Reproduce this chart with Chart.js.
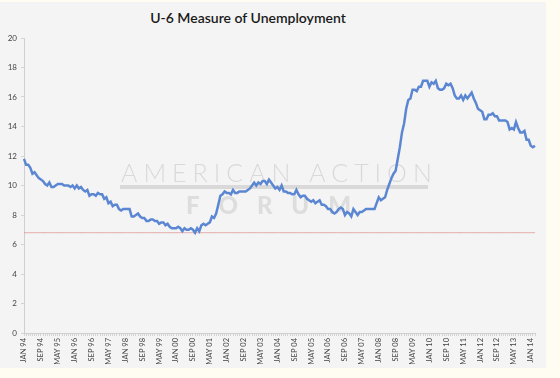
<!DOCTYPE html>
<html>
<head>
<meta charset="utf-8">
<script src="https://cdn.jsdelivr.net/npm/chart.js@4.4.1/dist/chart.umd.min.js"></script>
<style>
  html, body { margin: 0; padding: 0; background: #fffdf1; }
  .panel {
    position: absolute; left: 0; top: 2px; width: 546px; height: 366px;
    background: #f4f4f4;
  }
  .chart-title {
    position: absolute; left: 0; top: 7px; width: 496px; text-align: center;
    font: 600 14px Lato, sans-serif; color: #1a1a1a;
  }
  canvas { position: absolute; left: 0; top: 0; }
</style>
</head>
<body>
<div class="panel">
  <div class="chart-title">U-6 Measure of Unemployment</div>
  <canvas id="u6_chart" width="546" height="366"></canvas>
</div>
<script>
// monthly, Jan 1994 .. Mar 2014
const years = [94, 95, 96, 97, 98, 99, 0, 1, 2, 3, 4, 5, 6, 7, 8, 9, 10, 11, 12, 13, 14];
const monthNames = ["JAN", "FEB", "MAR", "APR", "MAY", "JUN", "JUL", "AUG", "SEP", "OCT", "NOV", "DEC"];

const u6 = [
  // 1994
  11.8, 11.4, 11.4, 11.2, 10.8, 10.9, 10.7, 10.5, 10.4, 10.3, 10.1, 10.0,
  // 1995
  10.2, 9.9, 9.9, 10.0, 10.1, 10.1, 10.1, 10.0, 10.0, 10.0, 9.9, 10.0,
  // 1996
  9.8, 10.0, 9.8, 9.9, 9.7, 9.6, 9.7, 9.3, 9.4, 9.4, 9.3, 9.5,
  // 1997
  9.4, 9.4, 9.1, 9.2, 8.8, 8.9, 8.6, 8.7, 8.7, 8.4, 8.3, 8.4,
  // 1998
  8.4, 8.4, 8.4, 7.9, 7.9, 8.0, 8.1, 7.9, 7.8, 7.8, 7.6, 7.6,
  // 1999
  7.7, 7.7, 7.6, 7.6, 7.4, 7.5, 7.5, 7.3, 7.4, 7.2, 7.1, 7.1,
  // 2000
  7.1, 7.2, 7.1, 6.9, 7.1, 7.0, 7.0, 7.1, 7.0, 6.8, 7.1, 6.9,
  // 2001
  7.3, 7.4, 7.3, 7.4, 7.5, 7.9, 7.8, 8.1, 8.7, 9.3, 9.4, 9.6,
  // 2002
  9.5, 9.5, 9.4, 9.7, 9.5, 9.5, 9.6, 9.6, 9.6, 9.6, 9.7, 9.8,
  // 2003
  10.0, 10.2, 10.0, 10.2, 10.1, 10.3, 10.3, 10.1, 10.4, 10.2, 10.0, 9.8,
  // 2004
  9.9, 9.7, 10.0, 9.6, 9.6, 9.5, 9.5, 9.4, 9.4, 9.7, 9.4, 9.2,
  // 2005
  9.3, 9.3, 9.1, 9.0, 8.9, 9.0, 8.8, 8.9, 9.0, 8.7, 8.7, 8.6,
  // 2006
  8.4, 8.4, 8.2, 8.1, 8.2, 8.4, 8.5, 8.4, 8.0, 8.2, 8.1, 7.9,
  // 2007
  8.4, 8.2, 8.0, 8.2, 8.2, 8.3, 8.4, 8.4, 8.4, 8.4, 8.4, 8.8,
  // 2008
  9.2, 9.0, 9.1, 9.2, 9.7, 10.1, 10.5, 10.8, 11.0, 11.8, 12.6, 13.6,
  // 2009
  14.2, 15.2, 15.8, 15.9, 16.5, 16.5, 16.4, 16.7, 16.7, 17.1, 17.1, 17.1,
  // 2010
  16.7, 17.0, 16.9, 17.1, 16.6, 16.5, 16.5, 16.6, 16.9, 16.8, 16.9, 16.6,
  // 2011
  16.1, 15.9, 15.9, 16.1, 15.8, 16.1, 15.9, 16.1, 16.3, 15.9, 15.6, 15.2,
  // 2012
  15.1, 15.0, 14.5, 14.5, 14.8, 14.8, 14.9, 14.7, 14.7, 14.4, 14.4, 14.4,
  // 2013
  14.4, 14.3, 13.8, 13.9, 13.8, 14.3, 13.9, 13.6, 13.6, 13.7, 13.1, 13.1,
  // 2014
  12.7, 12.6, 12.7
];

const refLevel = 6.8; // reference line
const yTicks = [0, 2, 4, 6, 8, 10, 12, 14, 16, 18, 20];

const labels = [];
years.forEach((y) => {
  monthNames.forEach((m) => {
    if (labels.length < u6.length) labels.push(m + " " + String(y).padStart(2, "0"));
  });
});

const watermark = {
  id: "watermark",
  beforeDatasetsDraw(chart) {
    const ctx = chart.ctx;
    ctx.save();
    ctx.fillStyle = "#d9d9d9";
    ctx.textBaseline = "alphabetic";
    ctx.textAlign = "left";
    ctx.font = "300 25px Lato, sans-serif";
    ctx.letterSpacing = "6px";
    ctx.fillText("AMERICAN ACTION", 121, 180);
    ctx.fillRect(120, 183, 308, 4);
    ctx.font = "900 24px Lato, sans-serif";
    ctx.letterSpacing = "19px";
    ctx.fillStyle = "#dddddd";
    ctx.fillText("FORUM", 186, 212);
    ctx.restore();
  },
};

const ctx = document.getElementById("u6_chart").getContext("2d");
new Chart(ctx, {
  type: "line",
  data: {
    labels: labels,
    datasets: [
      {
        label: "U-6",
        data: u6,
        borderColor: "#5b87d2",
        borderWidth: 2.5,
        pointRadius: 0,
        tension: 0,
        fill: false,
      },
      {
        label: "ref",
        data: labels.map(() => refLevel),
        borderColor: "rgba(222, 140, 140, 0.7)",
        borderWidth: 1,
        pointRadius: 0,
        fill: false,
      },
    ],
  },
  options: {
    responsive: false,
    animation: false,
    layout: { padding: { left: 4, top: 36, right: 8, bottom: 0 } },
    plugins: {
      legend: { display: false },
      tooltip: { enabled: false },
    },
    scales: {
      x: {
        offset: false,
        afterFit: (s) => { s.height = 35; },
        grid: { drawOnChartArea: false, color: "#d4d4d4", tickLength: 3 },
        border: { color: "#cfcfcf" },
        ticks: {
          autoSkip: false,
          maxRotation: 90,
          minRotation: 90,
          color: "#444",
          padding: 2,
          font: { family: "Lato", size: 7.5 },
          callback: (v, i) => (i % 8 === 0 ? labels[i] : ""),
        },
      },
      y: {
        min: 0,
        max: 20,
        afterFit: (s) => { s.width = 20; },
        afterBuildTicks: (s) => { s.ticks = yTicks.map((v) => ({ value: v })); },
        grid: { drawOnChartArea: false, color: "#d4d4d4", tickLength: 3 },
        border: { color: "#cfcfcf" },
        ticks: {
          color: "#444",
          padding: 4,
          font: { family: "Lato", size: 8 },
        },
      },
    },
  },
  plugins: [watermark],
});
</script>
</body>
</html>
